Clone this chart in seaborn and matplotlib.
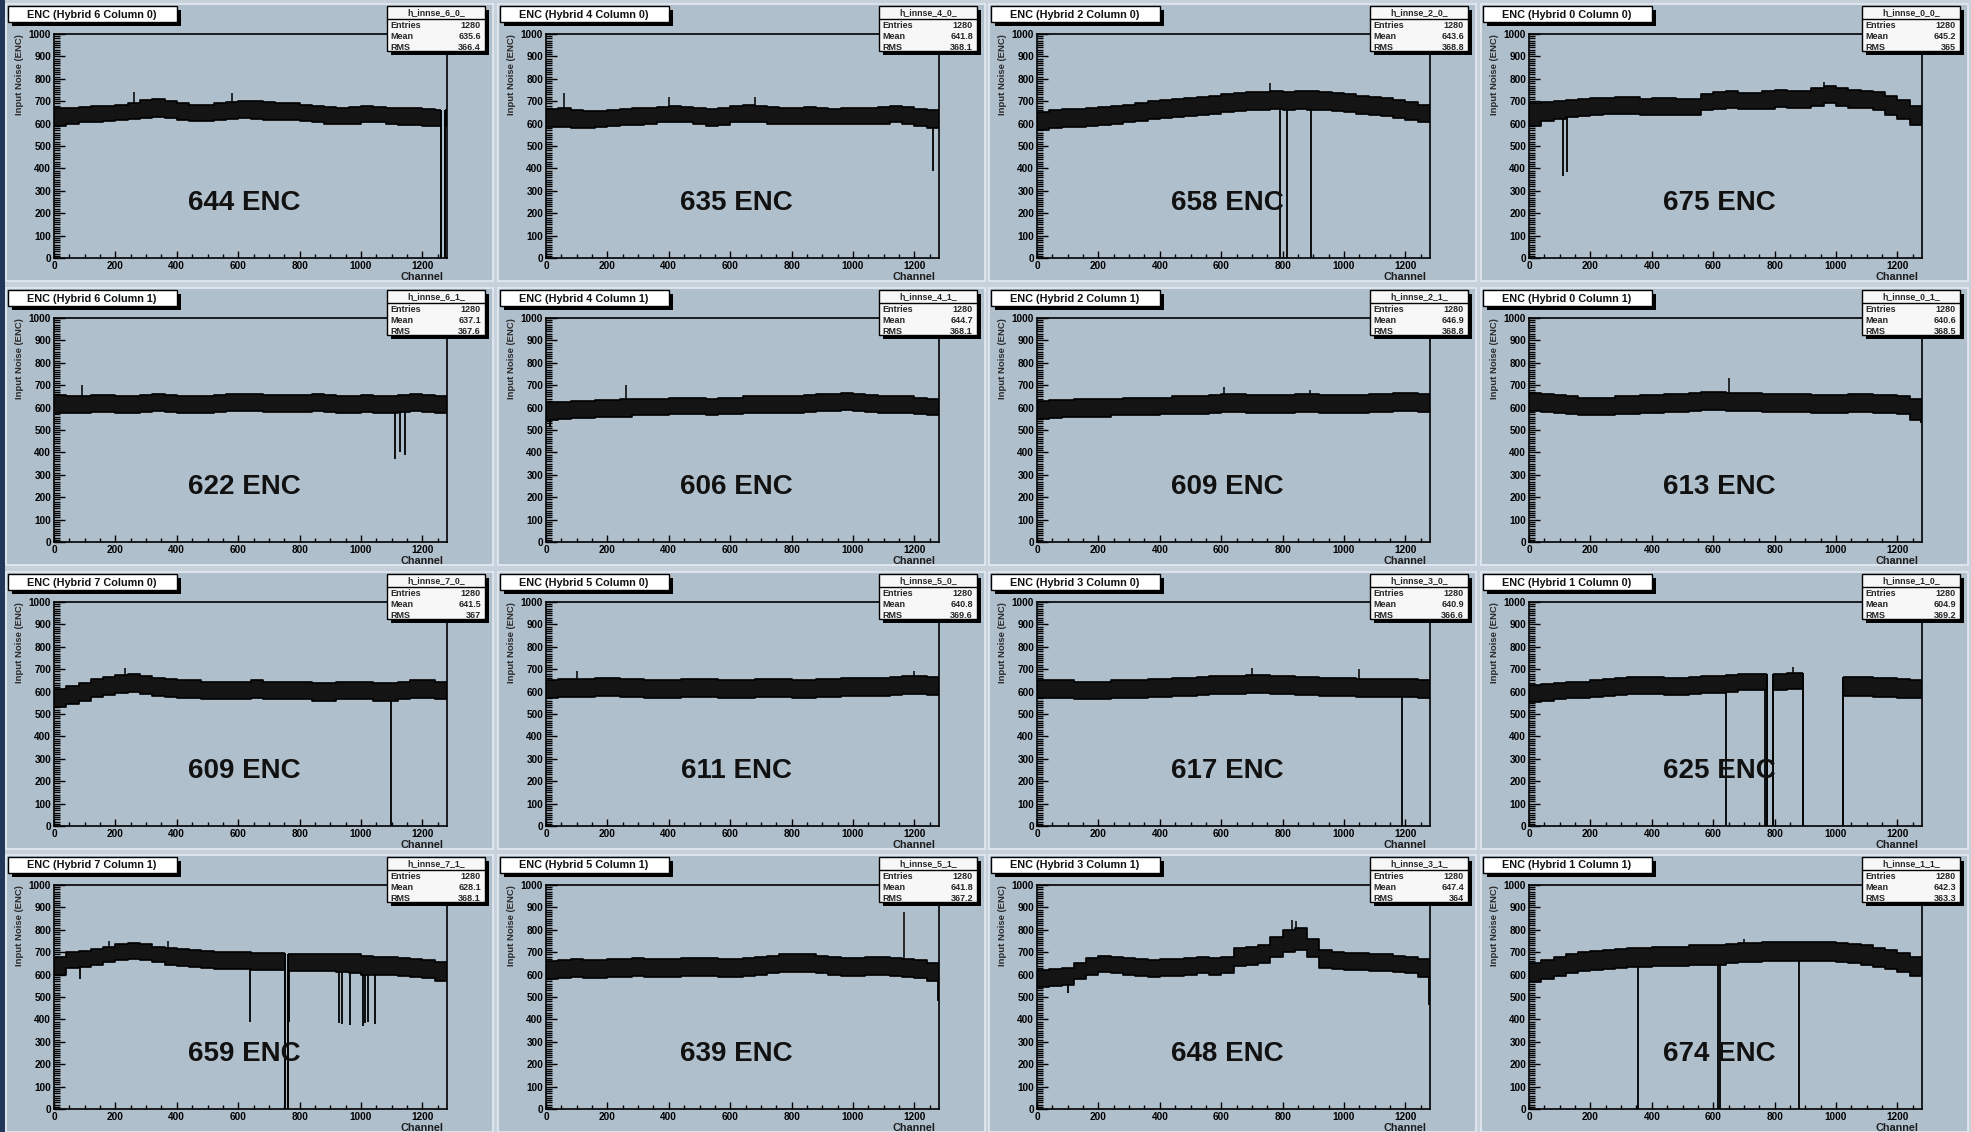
import numpy as np
import pandas as pd
import matplotlib
matplotlib.use("Agg")
import matplotlib.pyplot as plt
from matplotlib.patches import Rectangle
from matplotlib.ticker import MultipleLocator
import seaborn as sns

# --- values (band envelope per 40-channel bin) ---
hi_6_0 = [670,670,675,680,680,685,690,705,710,700,690,685,685,690,695,700,700,695,690,690,685,680,675,670,675,680,675,670,670,670,665,660]
lo_6_0 = [590,600,605,605,610,615,620,625,630,625,615,610,610,615,620,625,620,615,615,615,610,605,600,600,600,605,605,600,595,595,590,590]
hi_4_0 = [665,670,660,655,655,660,665,670,670,675,680,675,670,665,670,680,685,680,675,670,670,675,670,665,670,670,670,675,680,675,665,660]
lo_4_0 = [585,585,580,580,585,590,595,595,600,605,605,605,600,590,595,605,605,605,600,600,600,600,600,600,600,600,600,600,605,600,590,580]
hi_2_0 = [650,660,665,665,670,675,680,685,690,700,705,710,715,720,725,730,735,740,740,745,740,745,745,740,735,730,725,720,715,705,695,685]
lo_2_0 = [570,580,585,585,590,595,600,605,610,620,625,630,635,640,645,650,655,660,660,665,660,665,660,660,655,650,645,640,635,625,615,605]
hi_0_0 = [690,695,700,705,710,715,715,720,720,710,715,715,710,710,730,740,745,735,735,745,750,745,745,760,770,760,750,745,740,725,705,680]
lo_0_0 = [590,610,620,630,635,640,645,645,645,640,640,640,640,640,660,665,670,665,665,665,675,670,670,680,690,680,670,670,660,640,620,595]

hi_6_1 = [655,650,650,655,655,650,650,655,660,655,650,650,650,655,660,660,660,655,655,655,655,660,655,650,650,655,650,650,655,660,655,650]
lo_6_1 = [575,575,575,580,580,575,575,580,585,580,575,575,575,580,585,585,585,580,580,580,580,585,580,575,575,580,575,575,580,585,580,575]
hi_4_1 = [625,625,630,630,635,635,640,640,640,640,645,645,645,640,645,645,650,650,650,650,650,655,660,660,665,660,655,650,650,650,645,640]
lo_4_1 = [545,550,555,555,560,560,560,565,565,565,570,570,570,565,570,570,575,575,575,575,575,580,585,585,590,585,580,575,575,575,570,565]
hi_2_1 = [630,635,635,640,640,640,640,645,645,645,645,650,650,650,655,660,660,655,655,655,655,660,660,655,655,655,655,660,660,665,665,660]
lo_2_1 = [550,555,560,560,560,560,565,565,565,565,570,570,570,570,575,580,580,575,575,575,575,580,580,575,575,575,575,580,580,585,585,580]
hi_0_1 = [665,660,655,650,645,645,645,650,650,655,655,660,660,665,670,670,665,665,665,660,660,660,660,655,655,655,660,660,655,655,650,640]
lo_0_1 = [585,580,575,570,565,565,565,570,570,575,575,580,580,585,590,590,585,585,585,580,580,580,580,575,575,575,580,580,575,575,570,545]

hi_7_0 = [610,625,640,655,665,675,680,670,660,655,650,650,645,645,645,645,650,645,645,645,645,640,640,645,645,645,640,640,645,650,650,645]
lo_7_0 = [530,545,560,575,585,595,600,590,580,575,570,570,565,565,565,565,570,565,565,565,565,560,560,565,565,565,560,560,565,570,570,565]
hi_5_0 = [650,655,655,655,660,660,655,655,650,650,650,655,655,655,650,650,650,655,655,655,650,650,655,655,660,660,660,660,665,670,670,665]
lo_5_0 = [570,575,575,575,580,580,575,575,570,570,570,575,575,575,570,570,570,575,575,575,570,570,575,575,580,580,580,580,585,590,590,585]
hi_3_0 = [650,650,650,645,645,645,650,650,650,655,655,660,660,665,670,670,670,675,675,670,670,665,665,660,660,660,655,655,655,655,655,650]
lo_3_0 = [570,570,570,565,565,565,570,570,570,575,575,580,580,585,590,590,590,595,595,590,590,585,585,580,580,580,575,575,575,575,575,570]
hi_1_0 = [630,635,640,645,645,650,655,660,665,665,665,660,660,665,670,670,675,680,680,680,680,685,685,680,665,665,665,665,660,660,655,650]
lo_1_0 = [555,560,565,570,570,575,580,585,590,590,590,585,585,590,595,595,600,605,605,605,605,610,610,605,580,580,580,580,575,575,570,570]

hi_7_1 = [680,700,705,715,725,735,740,735,725,720,715,710,705,700,700,700,695,695,695,690,690,690,690,690,690,685,680,680,675,670,665,655]
lo_7_1 = [600,630,635,645,655,665,670,665,655,645,640,635,630,625,625,625,620,620,620,615,615,615,615,610,605,600,600,600,595,590,585,570]
hi_5_1 = [660,665,670,665,665,670,670,675,670,670,670,675,675,675,670,670,675,680,685,690,690,690,685,680,675,675,680,680,675,670,665,650]
lo_5_1 = [580,585,590,585,585,590,590,595,590,590,590,595,595,595,590,590,595,600,605,610,610,610,605,600,595,595,600,600,595,590,585,570]
hi_3_1 = [620,625,630,650,675,685,680,675,670,665,670,670,675,680,675,680,720,725,730,770,800,810,760,710,700,695,695,690,690,685,680,670]
lo_3_1 = [545,550,555,580,600,610,605,600,595,590,595,595,600,605,600,605,640,645,650,680,700,710,680,630,625,620,620,615,615,610,605,590]
hi_1_1 = [650,665,680,690,700,705,710,715,720,720,725,725,725,730,730,730,735,740,740,745,745,745,745,745,745,740,735,730,720,710,695,680]
lo_1_1 = [565,580,595,605,615,620,625,630,635,635,640,640,640,645,645,645,650,655,655,660,660,660,660,660,660,655,650,645,635,625,610,595]

# dead / low channels: (channel, value)
dips_6_0 = []
dips_4_0 = [(1262, 390)]
dips_2_0 = [(793, 0), (813, 0), (891, 0)]
dips_0_0 = [(112, 365), (124, 385)]
dips_6_1 = [(1111, 370), (1128, 400), (1144, 390)]
dips_4_1 = [(12, 520)]
dips_2_1 = []
dips_0_1 = [(1278, 530)]
dips_7_0 = [(1099, 0)]
dips_5_0 = []
dips_3_0 = [(1189, 0)]
dips_1_0 = [(641, 0), (769, 0)]
dips_7_1 = [(84, 580), (639, 390), (765, 390), (928, 385), (938, 380), (963, 375),
            (1006, 370), (1014, 385), (1022, 390), (1044, 380)]
dips_5_1 = [(1276, 480)]
dips_3_1 = [(100, 520), (1278, 465)]
dips_1_1 = [(354, 0), (617, 0), (623, 0), (881, 0)]

# channel ranges sitting at zero
gaps_6_0 = [(1262, 1272)]
gaps_1_0 = [(776, 795), (891, 1024)]
gaps_7_1 = [(752, 762)]

# single high channels
peaks_6_0 = [(262, 740), (580, 735)]
peaks_4_0 = [(60, 735), (400, 720), (680, 720)]
peaks_2_0 = [(760, 780)]
peaks_0_0 = [(960, 785)]
peaks_6_1 = [(90, 700)]
peaks_4_1 = [(260, 700)]
peaks_2_1 = [(610, 690), (890, 680)]
peaks_0_1 = [(650, 730)]
peaks_7_0 = [(230, 705)]
peaks_5_0 = [(100, 690), (1200, 690)]
peaks_3_0 = [(700, 705), (1050, 700)]
peaks_1_0 = [(860, 710)]
peaks_7_1 = [(180, 750), (370, 750)]
peaks_5_1 = [(1165, 880)]
peaks_3_1 = [(830, 845), (845, 840)]
peaks_1_1 = [(700, 760)]

hybrids = [6, 4, 2, 0, 6, 4, 2, 0, 7, 5, 3, 1, 7, 5, 3, 1]
columns = [0, 0, 0, 0, 1, 1, 1, 1, 0, 0, 0, 0, 1, 1, 1, 1]
enc_values = [644, 635, 658, 675, 622, 606, 609, 613, 609, 611, 617, 625, 659, 639, 648, 674]
entries = [1280] * 16
means = ["635.6", "641.8", "643.6", "645.2", "637.1", "644.7", "646.9", "640.6",
         "641.5", "640.8", "640.9", "604.9", "628.1", "641.8", "647.4", "642.3"]
rms_values = ["366.4", "368.1", "368.8", "365", "367.6", "368.1", "368.8", "368.5",
              "367", "369.6", "366.6", "369.2", "368.1", "367.2", "364", "363.3"]

his = [hi_6_0, hi_4_0, hi_2_0, hi_0_0, hi_6_1, hi_4_1, hi_2_1, hi_0_1,
       hi_7_0, hi_5_0, hi_3_0, hi_1_0, hi_7_1, hi_5_1, hi_3_1, hi_1_1]
los = [lo_6_0, lo_4_0, lo_2_0, lo_0_0, lo_6_1, lo_4_1, lo_2_1, lo_0_1,
       lo_7_0, lo_5_0, lo_3_0, lo_1_0, lo_7_1, lo_5_1, lo_3_1, lo_1_1]
dips = [dips_6_0, dips_4_0, dips_2_0, dips_0_0, dips_6_1, dips_4_1, dips_2_1, dips_0_1,
        dips_7_0, dips_5_0, dips_3_0, dips_1_0, dips_7_1, dips_5_1, dips_3_1, dips_1_1]
peaks = [peaks_6_0, peaks_4_0, peaks_2_0, peaks_0_0, peaks_6_1, peaks_4_1, peaks_2_1, peaks_0_1,
         peaks_7_0, peaks_5_0, peaks_3_0, peaks_1_0, peaks_7_1, peaks_5_1, peaks_3_1, peaks_1_1]
gaps = {0: gaps_6_0, 11: gaps_1_0, 12: gaps_7_1}

BIN = 40
edges = np.arange(0, 1281, BIN)

# --- style ---
sns.set_style("ticks")
plt.rcParams["font.family"] = ["Liberation Sans", "DejaVu Sans"]
plt.rcParams["font.weight"] = "bold"

W, H = 1971, 1132
panel_bg = "#b0bfcc"
fig = plt.figure(figsize=(W / 100, H / 100), dpi=100, facecolor="#c6d1db")


def fig_rect(x, y, w, h, **kw):
    # x, y in pixels from top-left
    r = Rectangle((x / W, 1 - (y + h) / H), w / W, h / H, transform=fig.transFigure, **kw)
    fig.add_artist(r)
    return r


def fig_txt(x, y, s, **kw):
    return fig.text(x / W, 1 - y / H, s, **kw)


fig_rect(0, 0, 5, H, facecolor="#23375b", edgecolor="none", zorder=-2)

col_x = [6, 498, 989, 1481]
row_y = [4, 288, 572, 855]
pw, ph = 487, 277

for i in range(16):
    r, c = divmod(i, 4)
    x0, y0 = col_x[c], row_y[r]
    fig_rect(x0, y0, pw, ph, facecolor=panel_bg, edgecolor="#e4eaf0", lw=1.2, zorder=-1)

    ax = fig.add_axes([(x0 + 48) / W, 1 - (y0 + 30 + 224) / H, 393 / W, 224 / H])
    ax.set_facecolor(panel_bg)

    hi = his[i] + [his[i][-1]]
    lo = los[i] + [los[i][-1]]
    ax.fill_between(edges, lo, hi, step="post", color="#141414", lw=0, zorder=2)
    df = pd.DataFrame({"Channel": np.concatenate([edges, edges]),
                       "value": hi + lo,
                       "edge": ["hi"] * len(edges) + ["lo"] * len(edges)})
    sns.lineplot(data=df, x="Channel", y="value", units="edge", estimator=None, sort=False,
                 color="black", lw=1.2, drawstyle="steps-post", ax=ax, zorder=3, legend=False)

    for a, b in gaps.get(i, []):
        ax.fill_between([a, b], 2, 990, color=panel_bg, lw=0, zorder=4)
        ax.vlines([a, b], 0, [his[i][int(a // BIN)], his[i][min(int(b // BIN), 31)]],
                  color="black", lw=1.4, zorder=5)
    for ch, v in dips[i]:
        ax.vlines(ch, v, los[i][min(int(ch // BIN), 31)], color="black", lw=1.3, zorder=5)
    for ch, v in peaks[i]:
        ax.vlines(ch, his[i][min(int(ch // BIN), 31)], v, color="black", lw=1.1, zorder=5)

    ax.text(620, 245, f"{enc_values[i]} ENC", ha="center", va="center",
            fontsize=20, fontweight="bold", color="#111111", zorder=6)

    ax.set_xlim(0, 1280)
    ax.set_ylim(0, 1000)
    ax.xaxis.set_major_locator(MultipleLocator(200))
    ax.xaxis.set_minor_locator(MultipleLocator(50))
    ax.yaxis.set_major_locator(MultipleLocator(100))
    ax.yaxis.set_minor_locator(MultipleLocator(10))
    ax.tick_params(which="both", direction="in", top=False, right=False,
                   labelsize=7.2, width=1, colors="black", pad=2)
    ax.tick_params(axis="y", which="major", length=8)
    ax.tick_params(axis="y", which="minor", length=4)
    ax.tick_params(axis="x", which="major", length=5)
    ax.tick_params(axis="x", which="minor", length=3)
    for lab in ax.get_xticklabels() + ax.get_yticklabels():
        lab.set_fontweight("bold")
    for sp in ax.spines.values():
        sp.set_visible(True)
        sp.set_color("black")
        sp.set_linewidth(1.2)
        sp.set_zorder(10)
    ax.set_xlabel("")
    ax.set_ylabel("")
    ax.text(-0.088, 1.0, "Input Noise (ENC)", transform=ax.transAxes, rotation=90,
            ha="center", va="top", fontsize=6.8, fontweight="bold", color="#2a2a2a")
    ax.text(0.99, -0.087, "Channel", transform=ax.transAxes, ha="right", va="center",
            fontsize=7.8, fontweight="bold", color="#1e1e1e")

    # title box
    fig_rect(x0 + 6, y0 + 6, 169, 16, facecolor="black", edgecolor="none", zorder=2)
    fig_rect(x0 + 2, y0 + 2, 169, 16, facecolor="white", edgecolor="black", lw=1, zorder=3)
    fig_txt(x0 + 86, y0 + 10.5, f"ENC (Hybrid {hybrids[i]} Column {columns[i]})",
            ha="center", va="center", fontsize=7.8, fontweight="bold", color="#111111", zorder=4)

    # stats box
    sx, sy, sw, sh = x0 + 381, y0 + 2, 98, 45
    fig_rect(sx + 4, sy + 4, sw, sh, facecolor="black", edgecolor="none", zorder=2)
    fig_rect(sx, sy, sw, sh, facecolor="#f7f7f7", edgecolor="black", lw=1, zorder=3)
    fig.add_artist(plt.Line2D([sx / W, (sx + sw) / W], [1 - (sy + 13) / H] * 2,
                              transform=fig.transFigure, color="black", lw=1, zorder=4))
    fig_txt(sx + sw / 2, sy + 7, f"h_innse_{hybrids[i]}_{columns[i]}_", ha="center", va="center",
            fontsize=6.3, fontweight="bold", zorder=5)
    for k, (name, val) in enumerate([("Entries", str(entries[i])), ("Mean", means[i]),
                                     ("RMS", rms_values[i])]):
        yy = sy + 19.5 + k * 11
        fig_txt(sx + 3, yy, name, ha="left", va="center", fontsize=6.5, fontweight="bold", zorder=5)
        fig_txt(sx + sw - 4, yy, val, ha="right", va="center", fontsize=6.5, fontweight="bold", zorder=5)

fig.savefig("out.png", dpi=100, facecolor=fig.get_facecolor())
